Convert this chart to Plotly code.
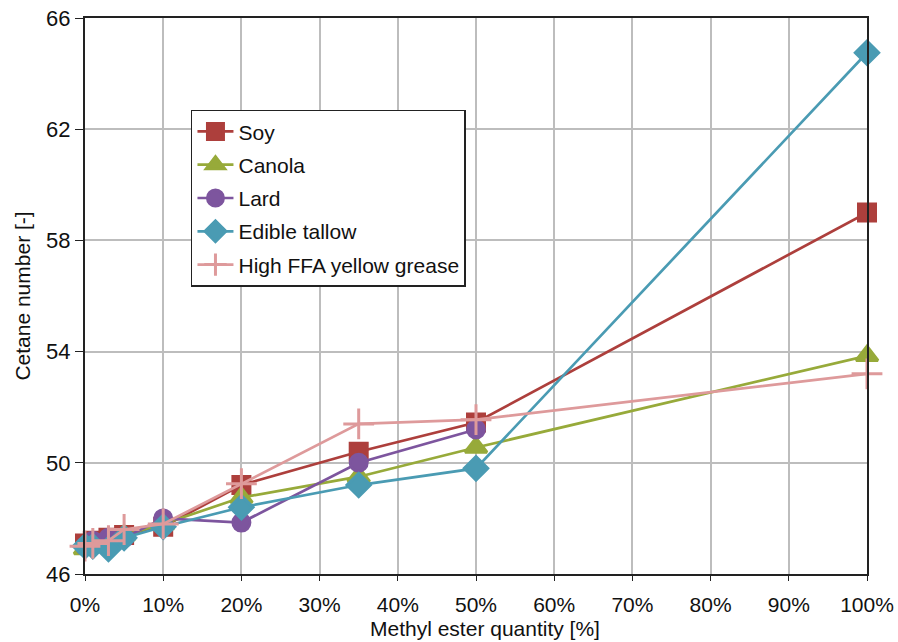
import plotly.graph_objects as go

# Blend level of methyl ester in the fuel (%)
blend = [0, 1, 3, 5, 10, 20, 35, 50, 100]
blend_lard = [0, 1, 3, 5, 10, 20, 35, 50]

soy = [47.1, 47.2, 47.3, 47.4, 47.7, 49.2, 50.4, 51.45, 59.0]
canola = [46.9, 47.0, 47.1, 47.4, 47.8, 48.75, 49.5, 50.55, 53.85]
lard = [47.0, 47.2, 47.3, 47.3, 48.0, 47.85, 50.0, 51.2]
edible_tallow = [47.0, 47.0, 46.9, 47.3, 47.7, 48.4, 49.2, 49.8, 64.75]
yellow_grease = [47.0, 47.1, 47.2, 47.6, 47.8, 49.25, 51.4, 51.55, 53.2]

y_ticks = [46, 50, 54, 58, 62, 66]
x_ticks = [0, 10, 20, 30, 40, 50, 60, 70, 80, 90, 100]
x_labels = [f"{v}%" for v in x_ticks]

series = [
    ("Soy", blend, soy, "#AD3F3C", "square", 17),
    ("Canola", blend, canola, "#97AA3A", "triangle-up", 19),
    ("Lard", blend_lard, lard, "#7D559E", "circle", 17),
    ("Edible tallow", blend, edible_tallow, "#4A9BB3", "diamond", 18),
    ("High FFA yellow grease", blend, yellow_grease, "#DE9A9B", "cross-thin", 22),
]

fig = go.Figure()
for name, xs, ys, color, symbol, size in series:
    fig.add_trace(go.Scatter(
        x=xs, y=ys, name=name, mode="lines+markers", legendgroup=name,
        line=dict(color=color, width=2.7),
        marker=dict(symbol=symbol, size=size, color=color,
                    line=dict(color=color, width=3)),
        cliponaxis=False,
    ))

fig.update_layout(
    width=898, height=642,
    margin=dict(l=85, r=31, t=18, b=68),
    paper_bgcolor="white", plot_bgcolor="white",
    font=dict(family="Liberation Sans, Arial, sans-serif", size=18, color="#111"),
    legend=dict(
        x=0.1355, y=0.835, xanchor="left", yanchor="top",
        bgcolor="white", bordercolor="#222", borderwidth=1.5,
        font=dict(size=21), tracegroupgap=3, itemwidth=36,
    ),
    annotations=[dict(
        text="Methyl ester quantity [%]", xref="paper", yref="paper",
        x=0.5, y=0, xanchor="center", yanchor="middle",
        xshift=9, yshift=-54, showarrow=False, font=dict(size=21),
    )],
)
fig.update_xaxes(
    range=[0, 100], tickvals=x_ticks, ticktext=x_labels, automargin=False,
    showgrid=True, gridcolor="#BDBDBD", gridwidth=1.5,
    showline=True, linecolor="#222", linewidth=2, mirror=True,
    ticks="outside", ticklen=5, tickcolor="#222", ticklabelstandoff=6,
    tickfont=dict(size=21),
    zeroline=False,
)
fig.update_yaxes(
    range=[46, 66], tickvals=y_ticks, automargin=False,
    showgrid=True, gridcolor="#BDBDBD", gridwidth=1.5,
    showline=True, linecolor="#222", linewidth=2, mirror=True,
    ticks="outside", ticklen=8, tickcolor="#222",
    tickfont=dict(size=22),
    title=dict(text="Cetane number [-]", standoff=10, font=dict(size=21)),
    zeroline=False,
)

fig.write_html("out.html")
